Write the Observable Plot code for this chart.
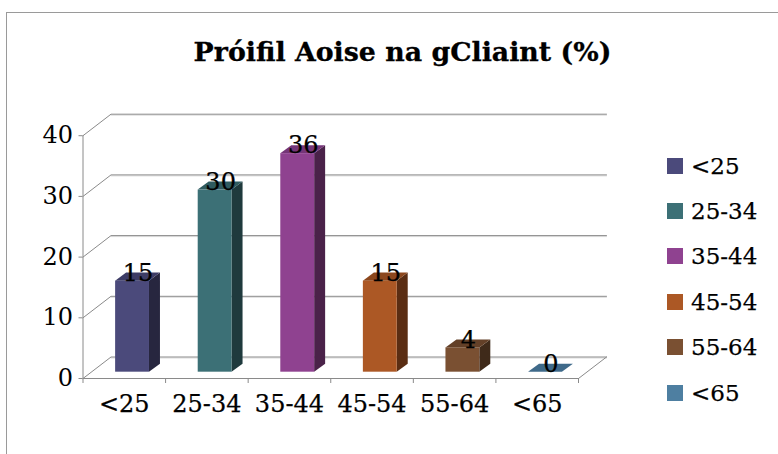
<!DOCTYPE html>
<html>
<head>
<meta charset="utf-8">
<script src="https://cdn.jsdelivr.net/npm/d3@7"></script>
<script src="https://cdn.jsdelivr.net/npm/@observablehq/plot@0.6"></script>
<style>
html,body{margin:0;padding:0;background:#fff;overflow:hidden}
#frame{position:relative;width:778px;height:454px;font-family:"DejaVu Serif",serif;color:#000}
#border{position:absolute;left:6px;top:12px;right:-2px;bottom:-2px;border-left:1.5px solid #9a9a9a;border-top:1.5px solid #9a9a9a}
#title{position:absolute;left:0;top:33px;width:805px;text-align:center;font-size:26.8px;font-weight:bold;line-height:38px;white-space:nowrap;-webkit-text-stroke:0.3px #000}
#legend{position:absolute;left:667px;top:143px;-webkit-text-stroke:0.25px #000}
.row{display:flex;align-items:center;height:45.4px;font-size:23px;white-space:nowrap}
.sw{display:inline-block;width:16px;height:16px;margin-right:8px}
svg{position:absolute;left:0;top:0}
</style>
</head>
<body>
<div id="frame"><div id="border"></div><div id="title"></div><div id="legend"></div></div>
<script>
const titleText = "Próifil Aoise na gCliaint (%)";
const categories = ["<25", "25-34", "35-44", "45-54", "55-64", "<65"];
const values = [15, 30, 36, 15, 4, 0];
const frontColors = ["#4b4a7b", "#3c7076", "#8f4290", "#ac5825", "#7a5032", "#4e7fa1"];
const topColors = ["#3d3c66", "#2f5b60", "#753578", "#8c471d", "#634028", "#3f6a8a"];
const sideColors = ["#27263f", "#1f3a3d", "#4a2249", "#5a2d13", "#3f2a1a", "#2a4558"];
const yTicks = [0, 10, 20, 30, 40];

// oblique projection, in axis units
const wallDx = 0.339, wallDy = 3.54;
const barDx = 0.133, barDy = 1.32;
const barWidth = 0.41, barShiftX = 0.1, barShiftY = 1.04;

const bars = categories.map((c, i) => {
  const x1 = i + 0.5 + barShiftX - barWidth / 2;
  return {c, i, v: values[i], x1, x2: x1 + barWidth,
          y1: barShiftY, y2: barShiftY + values[i],
          front: frontColors[i], top: topColors[i], side: sideColors[i]};
});
const sideRows = bars.flatMap(b => [
  {c: b.c, x: b.x2, y1: b.y1, y2: b.y2, fill: b.side},
  {c: b.c, x: b.x2 + barDx, y1: b.y1 + barDy, y2: b.y2 + barDy, fill: b.side}
]).filter(r => r.y2 > r.y1);
const topRows = bars.flatMap(b => [
  {c: b.c, y: b.y2, x1: b.x1, x2: b.x2, fill: b.top},
  {c: b.c, y: b.y2 + barDy, x1: b.x1 + barDx, x2: b.x2 + barDx, fill: b.top}
]);
const gridRows = yTicks.flatMap(t => [
  {t, x: 0, y: t}, {t, x: wallDx, y: t + wallDy}, {t, x: 6 + wallDx, y: t + wallDy}
]);
const floorRows = [
  {x: 0, y: 0}, {x: 6, y: 0}, {x: 6 + wallDx, y: wallDy}
];

const grey = "#8a8a8a";
const textStyle = {fontSize: 24, fill: "#000", stroke: "#000", strokeWidth: 0.25};
const chart = Plot.plot({
  width: 778, height: 454,
  marginLeft: 82.5, marginRight: 172, marginTop: 113.7, marginBottom: 76,
  style: {fontFamily: "'DejaVu Serif', serif", background: "transparent", overflow: "visible"},
  x: {type: "linear", domain: [0, 6 + wallDx], range: [82.5, 606], axis: null},
  y: {type: "linear", domain: [0, 40 + wallDy], range: [378, 113.7], axis: null},
  color: {type: "identity"},
  marks: [
    Plot.line(gridRows.filter(d => d.x > 0), {x: "x", y: "y", z: "t", stroke: "#dcdcdc", strokeWidth: 1, dy: 1}),
    Plot.line(gridRows, {x: "x", y: "y", z: "t", stroke: grey, strokeWidth: 1}),
    Plot.line(floorRows, {x: "x", y: "y", stroke: grey, strokeWidth: 1}),
    Plot.ruleX([0], {y1: 0, y2: 40, stroke: grey}),
    Plot.axisY(yTicks, {anchor: "left", tickSize: 4, tickPadding: 6, fontSize: 24, fill: "#000", stroke: grey, label: null, tickFormat: d => d}),
    Plot.axisX(d3.range(0, 7), {anchor: "bottom", tickSize: 5, tickFormat: () => "", stroke: grey, label: null}),
    Plot.text(categories, {x: (d, i) => i + 0.5, y: 0, text: d => d, dy: 26, ...textStyle}),
    Plot.areaY(sideRows, {x: "x", y1: "y1", y2: "y2", z: "c", fill: "fill"}),
    Plot.areaX(topRows, {y: "y", x1: "x1", x2: "x2", z: "c", fill: "fill"}),
    Plot.rect(bars.filter(b => b.v > 0), {x1: "x1", x2: "x2", y1: "y1", y2: "y2", fill: "front"}),
    Plot.text(bars, {x: b => (b.x1 + b.x2 + barDx) / 2 , y: b => b.y2 + barDy, text: b => String(b.v), ...textStyle})
  ]
});
document.getElementById("frame").appendChild(chart);
document.getElementById("title").textContent = titleText;
const legend = document.getElementById("legend");
categories.forEach((c, i) => {
  const row = document.createElement("div");
  row.className = "row";
  const sw = document.createElement("span");
  sw.className = "sw";
  sw.style.background = frontColors[i];
  row.appendChild(sw);
  row.appendChild(document.createTextNode(c));
  legend.appendChild(row);
});
</script>
</body>
</html>
